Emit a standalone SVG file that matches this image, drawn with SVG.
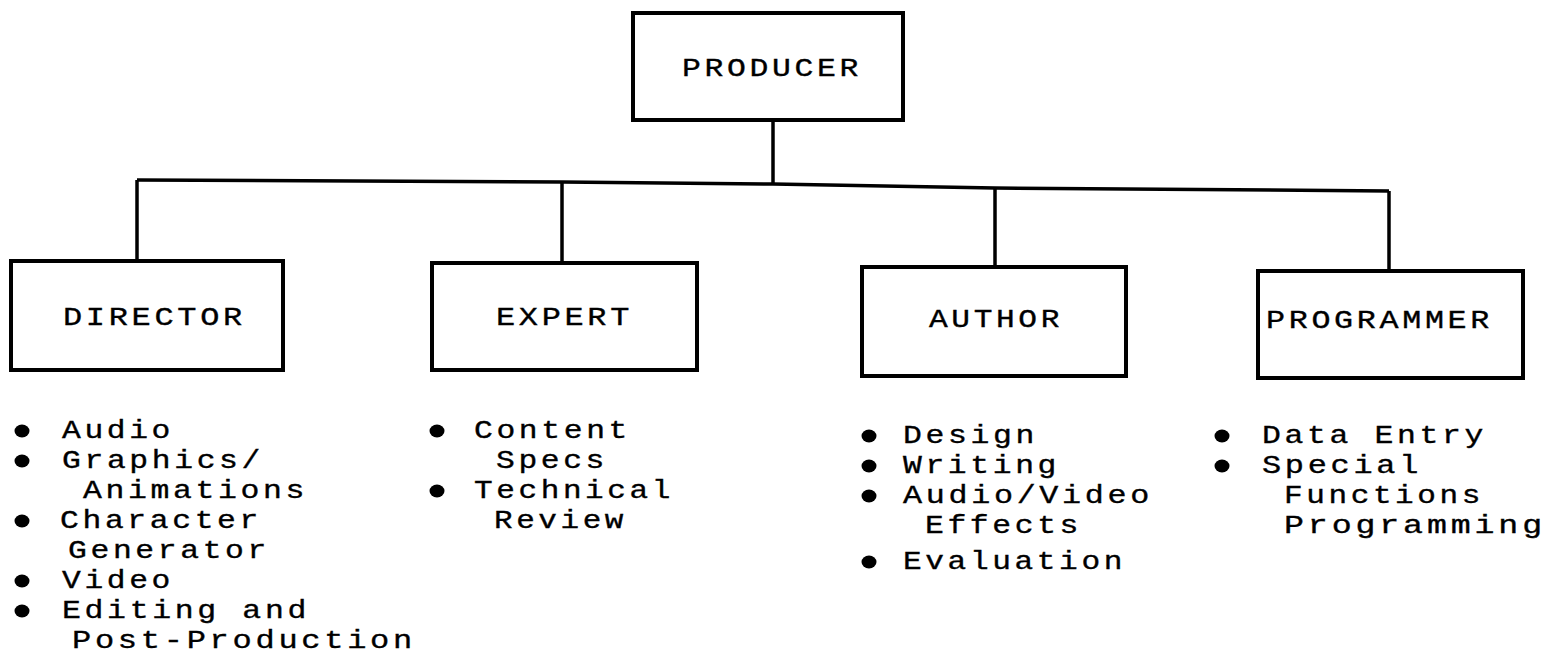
<svg xmlns="http://www.w3.org/2000/svg" width="1559" height="664" viewBox="0 0 1559 664">
<style>
.box{fill:#fff;stroke:#000;stroke-width:4;}
.con{fill:none;stroke:#000;stroke-width:3.5;stroke-linejoin:miter;}
.t{font-family:"Liberation Mono","DejaVu Sans Mono",monospace;font-size:26px;letter-spacing:3px;fill:#000;stroke:#000;stroke-width:0.35;}
.b{fill:#000;}
</style>
<rect width="1559" height="664" fill="#fff"/>
<g id="connectors">
<polyline class="con" points="137,180 562,182 773,184 995,188 1389,191"/>
<line class="con" x1="773" y1="120" x2="773" y2="184"/>
<line class="con" x1="137" y1="180" x2="137" y2="261"/>
<line class="con" x1="562" y1="182" x2="562" y2="263"/>
<line class="con" x1="995" y1="188" x2="995" y2="267"/>
<line class="con" x1="1389" y1="191" x2="1389" y2="271"/>
</g>
<g id="producer">
<rect class="box" x="633" y="13" width="270" height="107"/>
<text class="t" x="682" y="76" textLength="180" lengthAdjust="spacingAndGlyphs">PRODUCER</text>
</g>
<g id="director">
<rect class="box" x="11" y="261" width="272" height="109"/>
<text class="t" x="63" y="325" textLength="183" lengthAdjust="spacingAndGlyphs">DIRECTOR</text>
</g>
<g id="expert">
<rect class="box" x="432" y="263" width="265" height="107"/>
<text class="t" x="496" y="325" textLength="137" lengthAdjust="spacingAndGlyphs">EXPERT</text>
</g>
<g id="author">
<rect class="box" x="862" y="267" width="264" height="109"/>
<text class="t" x="929" y="327" textLength="134" lengthAdjust="spacingAndGlyphs">AUTHOR</text>
</g>
<g id="programmer">
<rect class="box" x="1258" y="271" width="265" height="107"/>
<text class="t" x="1266" y="328" textLength="227" lengthAdjust="spacingAndGlyphs">PROGRAMMER</text>
</g>
<g id="director-list">
<ellipse class="b" cx="22" cy="431" rx="7.5" ry="6.5"/>
<ellipse class="b" cx="22" cy="461" rx="7.5" ry="6.5"/>
<ellipse class="b" cx="22" cy="521" rx="7.5" ry="6.5"/>
<ellipse class="b" cx="22" cy="581" rx="7.5" ry="6.5"/>
<ellipse class="b" cx="22" cy="611" rx="7.5" ry="6.5"/>
<text class="t" x="62" y="438" textLength="112" lengthAdjust="spacingAndGlyphs">Audio</text>
<text class="t" x="62" y="468" textLength="202" lengthAdjust="spacingAndGlyphs">Graphics/</text>
<text class="t" x="83" y="498" textLength="225" lengthAdjust="spacingAndGlyphs">Animations</text>
<text class="t" x="60" y="528" textLength="202" lengthAdjust="spacingAndGlyphs">Character</text>
<text class="t" x="68" y="558" textLength="202" lengthAdjust="spacingAndGlyphs">Generator</text>
<text class="t" x="62" y="588" textLength="112" lengthAdjust="spacingAndGlyphs">Video</text>
<text class="t" x="62" y="618" textLength="248" lengthAdjust="spacingAndGlyphs">Editing and</text>
<text class="t" x="72" y="648" textLength="344" lengthAdjust="spacingAndGlyphs">Post-Production</text>
</g>
<g id="expert-list">
<ellipse class="b" cx="437" cy="431" rx="7.5" ry="6.5"/>
<ellipse class="b" cx="437" cy="491" rx="7.5" ry="6.5"/>
<text class="t" x="474" y="438" textLength="157" lengthAdjust="spacingAndGlyphs">Content</text>
<text class="t" x="496" y="468" textLength="112" lengthAdjust="spacingAndGlyphs">Specs</text>
<text class="t" x="474" y="498" textLength="200" lengthAdjust="spacingAndGlyphs">Technical</text>
<text class="t" x="494" y="528" textLength="133" lengthAdjust="spacingAndGlyphs">Review</text>
</g>
<g id="author-list">
<ellipse class="b" cx="869" cy="436" rx="7.5" ry="6.5"/>
<ellipse class="b" cx="869" cy="466" rx="7.5" ry="6.5"/>
<ellipse class="b" cx="869" cy="496" rx="7.5" ry="6.5"/>
<ellipse class="b" cx="869" cy="562" rx="7.5" ry="6.5"/>
<text class="t" x="903" y="443" textLength="135" lengthAdjust="spacingAndGlyphs">Design</text>
<text class="t" x="903" y="473" textLength="157" lengthAdjust="spacingAndGlyphs">Writing</text>
<text class="t" x="903" y="503" textLength="250" lengthAdjust="spacingAndGlyphs">Audio/Video</text>
<text class="t" x="925" y="533" textLength="157" lengthAdjust="spacingAndGlyphs">Effects</text>
<text class="t" x="903" y="569" textLength="223" lengthAdjust="spacingAndGlyphs">Evaluation</text>
</g>
<g id="programmer-list">
<ellipse class="b" cx="1222" cy="436" rx="7.5" ry="6.5"/>
<ellipse class="b" cx="1222" cy="466" rx="7.5" ry="6.5"/>
<text class="t" x="1262" y="443" textLength="225" lengthAdjust="spacingAndGlyphs">Data Entry</text>
<text class="t" x="1262" y="473" textLength="160" lengthAdjust="spacingAndGlyphs">Special</text>
<text class="t" x="1284" y="503" textLength="200" lengthAdjust="spacingAndGlyphs">Functions</text>
<text class="t" x="1284" y="533" textLength="262" lengthAdjust="spacingAndGlyphs">Programming</text>
</g>
</svg>
